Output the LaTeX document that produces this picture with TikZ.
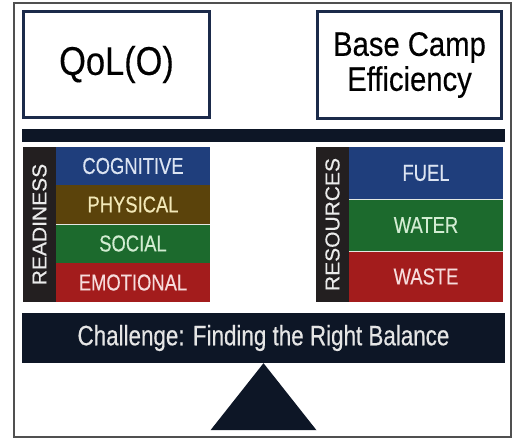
\documentclass[tikz,border=0pt]{standalone}
\usepackage{fontspec}
\setmainfont{Liberation Sans}
\newfontfamily\narrowfont[FakeStretch=0.86,FakeBold=0.3]{Liberation Sans}
\newfontfamily\condfont[FakeStretch=0.8,FakeBold=0.4]{Liberation Sans}
\newfontfamily\widefont[FakeStretch=1.05,FakeBold=0.5]{Liberation Sans}
\definecolor{navy}{HTML}{1B2A4A}
\definecolor{barcol}{HTML}{0D1626}
\definecolor{labcol}{HTML}{231F20}
\definecolor{cblue}{HTML}{1F3E7C}
\definecolor{cbrown}{HTML}{5B430B}
\definecolor{cgreen}{HTML}{1C6A2D}
\definecolor{cred}{HTML}{A31C1C}
\definecolor{tblue}{HTML}{DCE4F2}
\definecolor{tbrown}{HTML}{F2E8B8}
\definecolor{tgreen}{HTML}{D2ECD2}
\definecolor{tred}{HTML}{F6DCDC}
\definecolor{framecol}{HTML}{505050}
\definecolor{sepcol}{HTML}{E4E8E4}
\begin{document}
\begin{tikzpicture}[x=1pt,y=-1pt,
  topbox/.style={draw=navy, line width=3pt, fill=white, inner sep=0pt},
  cell/.style={inner sep=0pt, minimum width=154pt, font={\condfont\fontsize{23}{26}\selectfont}},
  labcell/.style={fill=labcol, inner sep=0pt, minimum width=33pt, minimum height=155pt},
  vlabel/.style={rotate=90, text=white!92!black, font={\widefont\fontsize{20}{23}\selectfont}},
  sepline/.style={draw=sepcol, line width=1.2pt},
  bar/.style={fill=barcol, inner sep=0pt}
]
\useasboundingbox (0,0) rectangle (513,440);
\fill[white] (0,0) rectangle (513,440);
% outer frame
\node[draw=framecol, line width=1.2pt, minimum width=497pt, minimum height=434pt, inner sep=0pt] (frame) at (262.5,220) {};
% top boxes
\node[topbox, minimum width=186pt, minimum height=106pt] (qol) at (116.5,64.5)
  {\narrowfont\fontsize{40}{44}\selectfont QoL(O)};
\node[topbox, minimum width=184pt, minimum height=107pt] (bce) at (409.5,65)
  {};
\node[align=center, font={\narrowfont\fontsize{34}{36}\selectfont}] (bcetext) at (bce.center) {Base Camp\\[-1pt]Efficiency};
% beam
\node[bar, minimum width=483pt, minimum height=13pt] (beam) at (263.5,135.5) {};
% readiness block
\node[labcell] (rlab) at (39.5,224.5) {};
\node[vlabel] (rtext) at (rlab.center) {READINESS};
\node[cell, fill=cblue, text=tblue, minimum height=38pt] (cog) at (133,166) {COGNITIVE};
\node[cell, fill=cbrown, text=tbrown, minimum height=39pt] (phy) at (133,204.5) {PHYSICAL};
\node[cell, fill=cgreen, text=tgreen, minimum height=39pt] (soc) at (133,243.5) {SOCIAL};
\node[cell, fill=cred, text=tred, minimum height=39pt] (emo) at (133,282.5) {EMOTIONAL};
\draw[sepline, line width=0.8pt] (phy.south west) -- (phy.south east);
% resources block
\node[labcell] (slab) at (332.5,224.5) {};
\node[vlabel] (stext) at (slab.center) {RESOURCES};
\node[cell, fill=cblue, text=tblue, minimum height=52pt] (fuel) at (426,173) {FUEL};
\node[cell, fill=cgreen, text=tgreen, minimum height=52pt] (water) at (426,225) {WATER};
\node[cell, fill=cred, text=tred, minimum height=51pt] (waste) at (426,276.5) {WASTE};
\draw[sepline] (fuel.south west) -- (fuel.south east);
\draw[sepline] (water.south west) -- (water.south east);
% challenge bar
\node[bar, minimum width=483pt, minimum height=50pt, text=white!90!black,
  font={\condfont\fontsize{28}{32}\selectfont}] (chal) at (263.5,338) {Challenge: Finding the Right Balance};
% fulcrum
\coordinate (apex) at (chal.south);
\fill[barcol] (apex) -- ++(-53,67) -- ++(106,0) -- cycle;
\end{tikzpicture}
\end{document}
